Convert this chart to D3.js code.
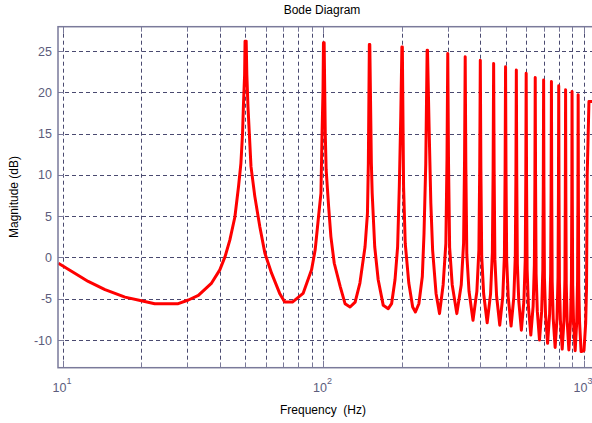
<!DOCTYPE html>
<html>
<head>
<meta charset="UTF-8">
<title>Bode Diagram</title>
<script src="https://d3js.org/d3.v7.min.js"></script>
<style>
html, body { margin: 0; padding: 0; background: #ffffff; }
svg { display: block; font-family: "Liberation Sans", Arial, sans-serif; }
</style>
</head>
<body>
<div id="chart"></div>
<script>
// axis ticks
var xTickValues = [10, 100, 1000];
var xMinorValues = [20, 30, 40, 50, 60, 70, 80, 90, 200, 300, 400, 500, 600, 700, 800, 900];
var yTickValues = [-10, -5, 0, 5, 10, 15, 20, 25];

// magnitude curve [Hz, dB]
var lowBand = [
  [9.6,-0.7],[11.1,-1.9],[12.5,-2.9],[14.5,-3.9],[17.3,-4.8],[20,-5.25],[22.5,-5.6],[27.7,-5.6],
  [30.3,-5.15],[33.1,-4.6],[37.2,-3.1],[40,-1.5],[41.9,0.1],[43.7,2.1],[45.7,4.9],[47.2,8.6],
  [48.2,11.4],[48.9,15],[49.3,18.5],[49.8,22.1],[50,26.2],[50.5,26.2],[50.8,22.1],[51.3,18.3],
  [52,14.6],[52.7,11],[54.5,7.4],[57,3.7],[59.6,0.5],[63.2,-1.9],[67.9,-4.35],[71,-5.4],[76,-5.4],
  [83.5,-4.35],[90,-1.5],[92.9,0.9],[95.7,4.9],[97.8,7.8],[98.7,14.6],[99.6,20.3],[100,26],
  [100.6,26],[101.6,15],[102.4,10.6],[104.7,6.1],[106.8,2.5],[110,-0.7],[115.9,-3.5],[121,-5.6],
  [126.5,-6],[132.3,-5.4],[138,-3.1],[144.4,1.3],[147.5,5.3],[148.7,11.4],[150,25.8]
];
var midBand = [
  [150.6,25.8],[152.7,11.4],[153.8,7.8],[157.3,1.3],[162.2,-2.7],[169.6,-5.8],[177.3,-6.2],
  [182.6,-5.6],[188.2,-2.7],[192.6,1.3],[195.5,8.6],[198,17],[200,25.5],[200.8,25.5],[203,8.6],
  [206,1.7],[212.6,-3.1],[220,-6],[225.4,-6.6],[232.4,-5.6],[239.6,-2.3],[243.2,2.9],[247,11.4],
  [250,25.1],[250.8,25.1],[254.5,15.4],[258.3,6.6],[262.4,0.9],[270.5,-4.35],[278.9,-6.8],
  [288,-3.3],[295,1.7],[298,12],[300,24.7],[302,11.5],[305,1.2],[312,-3.3],[325,-6.8],
  [338,-3.3],[345,1.7],[348,11.8],[350,24.3],[352,11],[355,0.4],[362,-4.1],[375,-7.6],
  [388,-4.1],[395,0.9],[398,11.1],[400,23.9],[402,10.8],[405,0.1],[412,-4.4],[425,-7.9],
  [438,-4.4],[445,0.6],[448,10.8],[450,23.5],[452,10.6],[455,-0.2],[462,-4.7],[475,-8.2]
];
var highBand = [
  [488,-4.7],[495,0.3],[498,10.5],[500,23.1],[502,10.4],[505,-0.3],[512,-4.8],[525,-8.3],
  [538,-4.8],[545,0.2],[548,10.2],[550,22.7],[552,10],[555,-0.8],[562,-5.3],[575,-8.8],
  [588,-5.3],[595,-0.3],[598,9.8],[600,22.3],[602,9.4],[605,-1.4],[612,-5.9],[625,-9.4],
  [638,-5.9],[645,-0.9],[648,9.2],[650,21.8],[652,8.9],[655,-2],[662,-6.5],[675,-10],
  [688,-6.5],[695,-1.5],[698,8.8],[700,21.5],[702,8.5],[705,-2.4],[712,-6.9],[725,-10.4],
  [738,-6.9],[745,-1.9],[748,8.4],[750,21.3],[752,8.2],[755,-2.9],[762,-7.4],[775,-10.9],
  [788,-7.4],[795,-2.4],[798,7.9],[800,20.8],[802,7.8],[805,-3.1],[812,-7.6],[825,-11.1],
  [838,-7.6],[845,-2.6],[848,7.6],[850,20.3],[852,7.5],[855,-3.2],[862,-7.7],[875,-11.2],
  [888,-7.7],[895,-2.7],[898,7.4],[900,20.1],[902,7.3],[905,-3.3],[912,-7.8],[925,-11.3],
  [938,-7.8],[945,-2.8],[948,7.2],[950,19.7],[952,7],[955,-3.4],[962,-7.9],[975,-11.4],
  [1000,-11.3],[1015,-8],[1023,-3.5],[1029,10],[1045,18.9],[1080,18.9]
];

var width = 592, height = 423;
var plotLeft = 58, plotTop = 26.7, plotBottom = 367.7;
var xMin = 9.57, xMax = 1100, yMin = -13.35, yMax = 27.95;

var svg = d3.select("#chart").append("svg")
  .attr("width", width)
  .attr("height", height);

var x = d3.scaleLog().domain([xMin, xMax]).range([plotLeft, plotLeft + 260.5 * Math.log10(xMax / xMin)]);
var y = d3.scaleLinear().domain([yMin, yMax]).range([plotBottom, plotTop]);
var plotRight = x(xMax);

var gridColor = "#4a4a70", axisColor = "#7a7a9a", labelColor = "#5c5c7c";

// grid
var grid = svg.append("g");
grid.selectAll("line.vx")
  .data(xTickValues.concat(xMinorValues))
  .enter().append("line")
  .attr("x1", function(d) { return Math.round(x(d)) + 0.5; })
  .attr("x2", function(d) { return Math.round(x(d)) + 0.5; })
  .attr("y1", plotTop).attr("y2", plotBottom)
  .attr("stroke", gridColor).attr("stroke-width", 1)
  .attr("stroke-dasharray", "4,3");
grid.selectAll("line.hy")
  .data(yTickValues)
  .enter().append("line")
  .attr("y1", function(d) { return Math.round(y(d)) + 0.5; })
  .attr("y2", function(d) { return Math.round(y(d)) + 0.5; })
  .attr("x1", plotLeft).attr("x2", plotRight)
  .attr("stroke", gridColor).attr("stroke-width", 1)
  .attr("stroke-dasharray", "4,3");

// inward ticks
var ticks = svg.append("g").attr("stroke", axisColor).attr("stroke-width", 1);
xTickValues.concat(xMinorValues).forEach(function(d) {
  var len = xTickValues.indexOf(d) >= 0 ? 7 : 5;
  var px = Math.round(x(d)) + 0.5;
  ticks.append("line").attr("x1", px).attr("x2", px).attr("y1", plotBottom).attr("y2", plotBottom - len);
  ticks.append("line").attr("x1", px).attr("x2", px).attr("y1", plotTop).attr("y2", plotTop + len);
});
yTickValues.forEach(function(d) {
  var py = Math.round(y(d)) + 0.5;
  ticks.append("line").attr("x1", plotLeft).attr("x2", plotLeft + 6).attr("y1", py).attr("y2", py);
});

// curve
svg.append("clipPath").attr("id", "plotclip")
  .append("rect").attr("x", plotLeft).attr("y", plotTop).attr("width", plotRight - plotLeft).attr("height", plotBottom - plotTop);

var line = d3.line()
  .x(function(d) { return x(d[0]); })
  .y(function(d) { return y(d[1]); });

svg.append("path")
  .datum(lowBand.concat(midBand, highBand))
  .attr("clip-path", "url(#plotclip)")
  .attr("d", line)
  .attr("fill", "none")
  .attr("stroke", "#ff0000")
  .attr("stroke-width", 3)
  .attr("stroke-linejoin", "round");

// axes box
svg.append("rect")
  .attr("x", plotLeft).attr("y", plotTop)
  .attr("width", plotRight - plotLeft).attr("height", plotBottom - plotTop)
  .attr("fill", "none").attr("stroke", axisColor).attr("stroke-width", 1.5);

// y tick labels
svg.selectAll("text.ylab")
  .data(yTickValues)
  .enter().append("text")
  .attr("x", 52)
  .attr("y", function(d) { return y(d) + 4.5; })
  .attr("text-anchor", "end")
  .attr("font-size", 12.5)
  .attr("fill", labelColor)
  .text(function(d) { return d; });

// x tick labels 10^n
xTickValues.forEach(function(d) {
  var t = svg.append("text")
    .attr("x", x(d) - 1)
    .attr("y", 391.5)
    .attr("text-anchor", "middle")
    .attr("font-size", 12.5)
    .attr("fill", labelColor);
  t.append("tspan").text("10");
  t.append("tspan").attr("dy", -8).attr("font-size", 9).text(String(Math.round(Math.log10(d))));
});

// titles
svg.append("text")
  .attr("x", 322).attr("y", 13.5)
  .attr("text-anchor", "middle")
  .attr("font-size", 12)
  .attr("fill", "#000")
  .text("Bode Diagram");

svg.append("text")
  .attr("x", 323).attr("y", 414)
  .attr("text-anchor", "middle")
  .attr("font-size", 12)
  .attr("fill", "#000")
  .attr("xml:space", "preserve")
  .text("Frequency  (Hz)");

svg.append("text")
  .attr("transform", "translate(18,197) rotate(-90)")
  .attr("text-anchor", "middle")
  .attr("font-size", 12)
  .attr("fill", "#000")
  .text("Magnitude (dB)");
</script>
</body>
</html>
